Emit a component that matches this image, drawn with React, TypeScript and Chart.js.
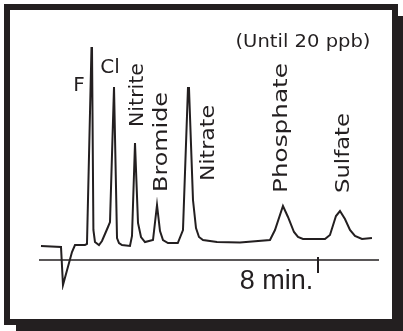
import React, { useEffect, useRef } from "react";
import { Chart, registerables } from "chart.js";

Chart.register(...registerables);

// retention time (min)
const times = [
  0.057, 0.631, 0.688, 0.946, 1.032, 1.319, 1.376, 1.505, 1.52, 1.56, 1.605, 1.72, 1.806, 1.892, 1.978, 2.036,
  2.151, 2.237, 2.294, 2.38, 2.609, 2.667, 2.753, 2.839, 2.925, 3.039, 3.154, 3.269, 3.384, 3.47, 3.556, 3.699,
  3.98, 4.129, 4.272, 4.301, 4.416, 4.502, 4.588, 4.703, 5.104, 5.763, 6.624, 6.767, 6.996, 7.14, 7.312, 7.427,
  7.57, 8.201, 8.344, 8.516, 8.631, 8.774, 8.918, 9.061, 9.262, 9.548,
];
// detector signal (arbitrary units)
const signal = [
  1.4, 1.3, -2.5, 0.8, 1.5, 1.5, 1.6, 21.2, 21.2, 3.0, 1.8, 1.5, 1.9, 2.6, 3.3, 3.8,
  17.3, 2.2, 1.7, 1.5, 1.4, 2.4, 11.7, 3.7, 2.3, 1.8, 1.9, 2.0, 5.5, 2.9, 2.0, 1.7,
  1.7, 3.0, 17.2, 17.2, 6.0, 3.2, 2.3, 2.0, 1.8, 1.75, 2.0, 3.0, 5.4, 4.3, 2.8, 2.3,
  2.1, 2.1, 2.5, 4.4, 4.9, 4.1, 3.0, 2.4, 2.1, 2.2,
];

const peakNames = ["Nitrite", "Bromide", "Nitrate", "Phosphate", "Sulfate"];
const peakLabelTimes = [2.982, 3.67, 5.018, 7.111, 8.889];
const peakLabelStarts = [13.3, 6.8, 7.9, 6.7, 6.7];

const axisTickMinutes = 8;
const axisTickLabel = "8 min.";
const noteText = "(Until 20 ppb)";

const INK = "#231f20";

function drawStretched(ctx: CanvasRenderingContext2D, text: string, x: number, y: number, rot: number, len: number, align: CanvasTextAlign) {
  ctx.save();
  ctx.translate(x, y);
  ctx.rotate(rot);
  const w = ctx.measureText(text).width;
  ctx.scale(len / w, 1);
  ctx.textAlign = align;
  ctx.textBaseline = "alphabetic";
  ctx.fillText(text, 0, 0);
  ctx.restore();
}

const overlayPlugin = {
  id: "chromOverlay",
  afterDatasetsDraw(chart: any) {
    const ctx: CanvasRenderingContext2D = chart.ctx;
    const xs = chart.scales.x;
    const ys = chart.scales.y;
    ctx.save();
    ctx.strokeStyle = INK;
    ctx.fillStyle = INK;
    // time axis
    const y0 = ys.getPixelForValue(0);
    ctx.lineWidth = 1.6;
    ctx.beginPath();
    ctx.moveTo(xs.left, y0);
    ctx.lineTo(xs.right, y0);
    ctx.stroke();
    const tx = xs.getPixelForValue(axisTickMinutes);
    ctx.lineWidth = 2;
    ctx.beginPath();
    ctx.moveTo(tx, ys.getPixelForValue(0.3));
    ctx.lineTo(tx, ys.getPixelForValue(-1.3));
    ctx.stroke();

    ctx.font = "27px 'Liberation Sans'";
    ctx.textAlign = "center";
    ctx.textBaseline = "alphabetic";
    ctx.fillText(axisTickLabel, xs.getPixelForValue(6.81), ys.getPixelForValue(-2.9));

    ctx.font = "17px 'DejaVu Sans'";
    drawStretched(ctx, noteText, xs.getPixelForValue(7.57), ys.getPixelForValue(21.3), 0, 135, "center");

    ctx.font = "20px 'DejaVu Sans'";
    ctx.textAlign = "center";
    ctx.fillText("F", xs.getPixelForValue(1.147), ys.getPixelForValue(16.9));
    ctx.fillText("Cl", xs.getPixelForValue(2.036), ys.getPixelForValue(18.7));

    const lens = [64, 100, 76, 130, 80];
    peakNames.forEach((name, i) => {
      drawStretched(
        ctx,
        name,
        xs.getPixelForValue(peakLabelTimes[i]),
        ys.getPixelForValue(peakLabelStarts[i]),
        -Math.PI / 2,
        lens[i],
        "left"
      );
    });
    ctx.restore();
  },
};

export default function App() {
  const ref = useRef<HTMLCanvasElement | null>(null);
  useEffect(() => {
    if (!ref.current) return;
    const chart = new Chart(ref.current, {
      type: "line",
      data: {
        datasets: [
          {
            data: times.map((t, i) => ({ x: t, y: signal[i] })),
            borderColor: INK,
            borderWidth: 2,
            pointRadius: 0,
            tension: 0,
            fill: false,
          },
        ],
      },
      options: {
        responsive: false,
        animation: false,
        devicePixelRatio: 1,
        layout: { padding: { left: 39, right: 24, top: 30, bottom: 41 } },
        scales: {
          x: { type: "linear", min: 0, max: 9.75, display: false },
          y: { type: "linear", min: -3, max: 23, display: false },
        },
        plugins: { legend: { display: false }, tooltip: { enabled: false } },
      },
      plugins: [overlayPlugin],
    });
    return () => chart.destroy();
  }, []);
  return (
    <div style={{ position: "fixed", left: 0, top: 0, width: 403, height: 331, background: "#fff", overflow: "hidden" }}>
      <div
        style={{
          position: "absolute",
          left: 4,
          top: 4,
          width: 382,
          height: 309,
          border: `6px solid ${INK}`,
          boxShadow: `12px 12px 0 ${INK}`,
          background: "#fff",
        }}
      />
      <canvas ref={ref} width={403} height={331} style={{ position: "absolute", left: 0, top: 0 }} />
    </div>
  );
}
